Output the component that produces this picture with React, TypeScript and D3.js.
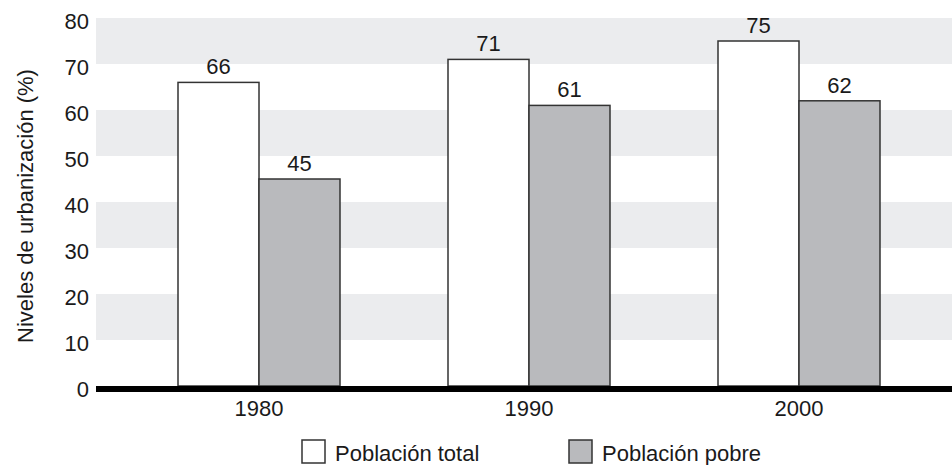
import { useEffect, useRef } from 'react'
import * as d3 from 'd3'

const years = ['1980', '1990', '2000']
const seriesNames = ['Población total', 'Población pobre']
const totalValues = [66, 71, 75]
const poorValues = [45, 61, 62]
const yTicks = [0, 10, 20, 30, 40, 50, 60, 70, 80]
const bandRanges = [[10, 20], [30, 40], [50, 60], [70, 80]]
const seriesColors = ['#ffffff', '#b9babd']

export default function App() {
  const svgRef = useRef<SVGSVGElement>(null)

  useEffect(() => {
    if (!svgRef.current) return
    const width = 952
    const height = 465

    d3.select(svgRef.current).selectAll('*').remove()

    const svg = d3.select(svgRef.current)
      .attr('width', width)
      .attr('height', height)
      .attr('viewBox', `0 0 ${width} ${height}`)
      .style('font-family', 'Liberation Sans, Arial, sans-serif')

    const plotLeft = 96
    const plotRight = 952

    // scales
    const y = d3.scaleLinear().domain([0, 80]).range([386, 18])

    const x0 = d3.scaleBand<string>()
      .domain(years)
      .range([124, 934])
      .paddingInner(0.4)
      .paddingOuter(0.2)

    const x1 = d3.scaleBand<string>()
      .domain(seriesNames)
      .range([0, x0.bandwidth()])

    // alternating background bands
    svg.append('g')
      .selectAll('rect')
      .data(bandRanges)
      .enter().append('rect')
      .attr('x', plotLeft)
      .attr('width', plotRight - plotLeft)
      .attr('y', d => y(d[1]))
      .attr('height', d => y(d[0]) - y(d[1]))
      .attr('fill', '#ebecee')

    // y tick labels
    svg.append('g')
      .selectAll('text')
      .data(yTicks)
      .enter().append('text')
      .attr('x', 89)
      .attr('y', d => y(d))
      .attr('dy', 11)
      .attr('text-anchor', 'end')
      .attr('font-size', 22)
      .attr('fill', '#1a1a1a')
      .text(d => d)

    // y axis title
    svg.append('text')
      .attr('transform', `translate(33,${206}) rotate(-90)`)
      .attr('text-anchor', 'middle')
      .attr('font-size', 22)
      .attr('fill', '#1a1a1a')
      .text('Niveles de urbanización (%)')

    // bars
    const rows = years.map((yr, i) => ({
      year: yr,
      values: [totalValues[i], poorValues[i]],
    }))

    const groups = svg.append('g')
      .selectAll('g')
      .data(rows)
      .enter().append('g')
      .attr('transform', d => `translate(${x0(d.year)},0)`)

    groups.selectAll('rect')
      .data(d => d.values.map((v, k) => ({ key: seriesNames[k], v, k })))
      .enter().append('rect')
      .attr('x', d => x1(d.key)!)
      .attr('width', x1.bandwidth())
      .attr('y', d => y(d.v))
      .attr('height', d => y(0) - y(d.v))
      .attr('fill', d => seriesColors[d.k])
      .attr('stroke', '#333')
      .attr('stroke-width', 1.5)

    groups.selectAll('text')
      .data(d => d.values.map((v, k) => ({ key: seriesNames[k], v, k })))
      .enter().append('text')
      .attr('x', d => x1(d.key)! + x1.bandwidth() / 2)
      .attr('y', d => y(d.v) - 8)
      .attr('text-anchor', 'middle')
      .attr('font-size', 22)
      .attr('fill', '#1a1a1a')
      .text(d => d.v)

    // baseline
    svg.append('line')
      .attr('x1', plotLeft)
      .attr('x2', plotRight)
      .attr('y1', y(0) + 3)
      .attr('y2', y(0) + 3)
      .attr('stroke', '#000')
      .attr('stroke-width', 6)

    // x labels
    svg.append('g')
      .selectAll('text')
      .data(years)
      .enter().append('text')
      .attr('x', d => x0(d)! + x0.bandwidth() / 2)
      .attr('y', 416)
      .attr('text-anchor', 'middle')
      .attr('font-size', 22)
      .attr('fill', '#1a1a1a')
      .text(d => d)

    // legend
    const legendX = [302, 569]
    const legend = svg.append('g')
      .selectAll('g')
      .data(seriesNames)
      .enter().append('g')
      .attr('transform', (d, i) => `translate(${legendX[i]},440)`)

    legend.append('rect')
      .attr('width', 23)
      .attr('height', 23)
      .attr('fill', (d, i) => seriesColors[i])
      .attr('stroke', '#333')
      .attr('stroke-width', 1.5)

    legend.append('text')
      .attr('x', 33)
      .attr('y', 21)
      .attr('font-size', 22)
      .attr('fill', '#1a1a1a')
      .text(d => d)
  }, [])

  return (
    <div style={{ position: 'absolute', left: 0, top: 0 }}>
      <svg ref={svgRef} style={{ display: 'block' }} />
    </div>
  )
}
